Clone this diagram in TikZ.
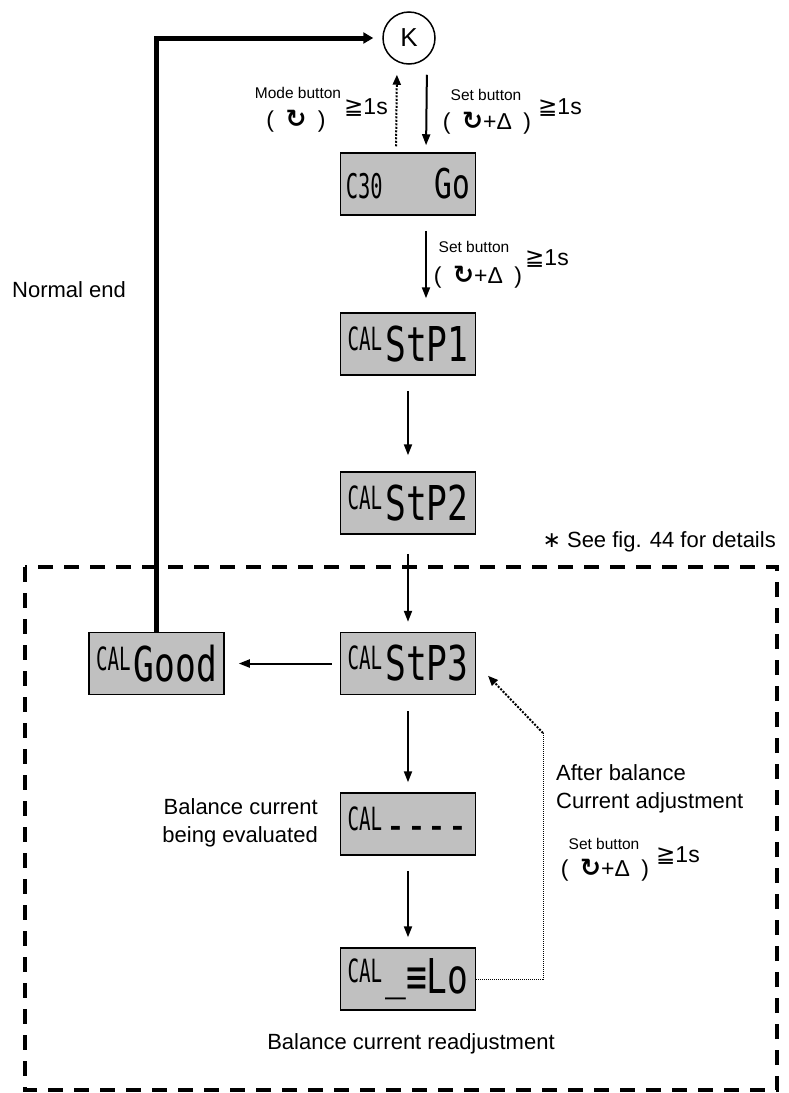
\documentclass[tikz,border=0pt]{standalone}
\usepackage{fontspec}
\setmainfont{Liberation Sans}
\newfontfamily\symfont{DejaVu Sans}
\newfontfamily\lcdbig[FakeStretch=0.72]{DejaVu Sans Mono}
\newfontfamily\lcdsmall[FakeStretch=0.6]{DejaVu Sans Mono}
\usetikzlibrary{arrows.meta}
\definecolor{lcdgray}{RGB}{192,192,192}
\newcommand{\lcdcal}{\raisebox{11pt}{\fontsize{32}{32}\selectfont\lcdsmall CAL}\hspace{3pt}}
\newcommand{\lcdtxt}[1]{{\fontsize{48}{48}\selectfont\lcdbig #1}}
\newcommand{\rotkey}{{\fontsize{25}{26}\selectfont\symfont\bfseries ↻}}
\newcommand{\holdtime}{{\symfont ≧}1s}
\tikzset{
  lcdbox/.style={draw=black, line width=1.5pt, fill=lcdgray, minimum width=135pt,
    minimum height=62pt, inner sep=2pt},
  keynode/.style={circle, draw=black, line width=1.5pt, minimum size=52pt,
    font=\fontsize{26}{30}\selectfont},
  flowarrow/.style={-{Triangle[length=11pt,width=8pt]}, line width=2pt},
  endarrow/.style={-{Triangle[length=10pt,width=11pt]}, line width=5pt},
  backarrow/.style={-{Triangle[length=10pt,width=8pt]}, line width=2pt, dash pattern=on 2pt off 1.5pt},
  backline/.style={line width=1pt, dash pattern=on 1pt off 1pt},
  btnlabel/.style={font=\fontsize{15.5}{18}\selectfont, inner sep=0pt},
  keylabel/.style={font=\fontsize{23}{26}\selectfont, inner sep=0pt},
  note/.style={font=\fontsize{22}{28}\selectfont, inner sep=0pt},
  groupframe/.style={line width=4pt, dash pattern=on 15pt off 11pt}
}
\begin{document}
\begin{tikzpicture}[x=1pt,y=-1pt]
  \useasboundingbox (0,0) rectangle (789,1093);
  \node[keynode] (k) at (409,38) {K};
  \node[lcdbox] (c30) at (408,184) {{\fontsize{34}{34}\selectfont\lcdsmall C30}\hspace{52pt}{\fontsize{41}{41}\selectfont\lcdbig Go}};
  \node[lcdbox] (stp1) at (408,344) {\lcdcal\lcdtxt{StP1}};
  \node[lcdbox] (stp2) at (408,503) {\lcdcal\lcdtxt{StP2}};
  \node[lcdbox] (stp3) at (408,663.5) {\lcdcal\lcdtxt{StP3}};
  \node[lcdbox] (good) at (156.5,663.5) {\lcdcal\lcdtxt{Good}};
  \node[lcdbox] (eval) at (408,824) {\lcdcal\lcdtxt{----}};
  \node[lcdbox] (lo) at (408,979) {\lcdcal\lcdtxt{\raisebox{5pt}{\_}≡Lo}};
  \coordinate (bend) at (543,733);

  \node[btnlabel] (modelbl) at (298,93) {Mode button};
  \node[keylabel] (moderot) at (296,121) {(\enspace\rotkey\enspace)};
  \node[keylabel] (modetime) at (366,108) {\holdtime};
  \node[btnlabel] (setlbla) at (486,95) {Set button};
  \node[keylabel] (setrota) at (487,123) {(\enspace\rotkey+Δ\enspace)};
  \node[keylabel] (settimea) at (560,108) {\holdtime};
  \node[btnlabel] (setlblb) at (474,247) {Set button};
  \node[keylabel] (setrotb) at (478,277) {(\enspace\rotkey+Δ\enspace)};
  \node[keylabel] (settimeb) at (547,259) {\holdtime};
  \node[btnlabel] (setlblc) at (604,844) {Set button};
  \node[keylabel] (setrotc) at (605,870) {(\enspace\rotkey+Δ\enspace)};
  \node[keylabel] (settimec) at (678,856) {\holdtime};

  \node[note, anchor=west] (normal) at (12,290) {Normal end};
  \node[note, anchor=east] (details) at (776,542) {{\symfont ∗} See fig. 44 for details};
  \node[note, anchor=east, align=right] (evaluating) at (318,823) {Balance current\\being evaluated};
  \node[note, anchor=west, align=left] (afteradj) at (556,789) {After balance\\Current adjustment};
  \node[note] (readj) at (411,1044) {Balance current readjustment};

  \draw[groupframe] (25,567) rectangle (777,1090);

  \draw[endarrow, shorten >=9pt] (good.north) |- (k.west);
  \draw[backarrow, shorten <=6pt, shorten >=10pt] ([xshift=-12pt]c30.north) -- ([xshift=-12pt]k.south);
  \draw[flowarrow, shorten <=10pt, shorten >=7pt] ([xshift=18pt]k.south) -- ([xshift=18pt]c30.north);
  \draw[flowarrow, shorten <=15pt, shorten >=14pt] ([xshift=18pt]c30.south) -- ([xshift=18pt]stp1.north);
  \draw[flowarrow, shorten <=15pt, shorten >=16pt] (stp1) -- (stp2);
  \draw[flowarrow, shorten <=19pt, shorten >=10pt] (stp2) -- (stp3);
  \draw[flowarrow, shorten <=8pt, shorten >=14pt] (stp3) -- (good);
  \draw[flowarrow, shorten <=16pt, shorten >=10pt] (stp3) -- (eval);
  \draw[flowarrow, shorten <=15pt, shorten >=10pt] (eval) -- (lo);
  \draw[backline] (lo.east) -| (bend);
  \draw[backarrow, shorten >=17pt] (bend) -- (stp3.east);
\end{tikzpicture}
\end{document}
